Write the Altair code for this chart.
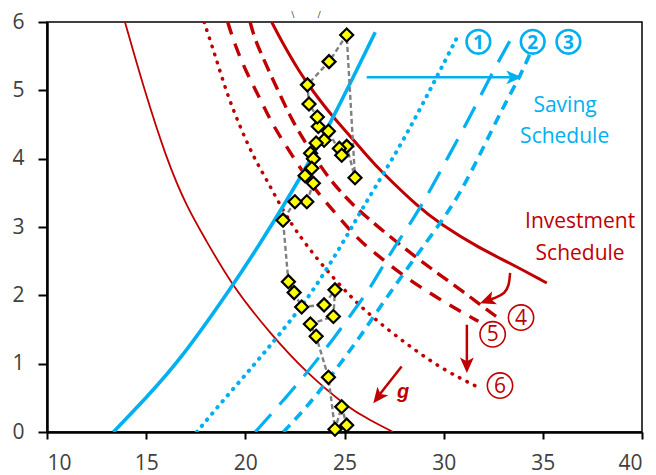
import altair as alt
import pandas as pd

BLUE = "#00B0F0"
RED = "#C00000"
FONT = "Open Sans"

# ---------------- curves ----------------
inv_main_x = [21.33, 21.75, 22.76, 23.43, 24.27, 25.11, 26.2, 26.79, 28.8, 29.82, 31.67, 33.35, 35.2]
inv_main_y = [6.0, 5.76, 5.25, 4.98, 4.66, 4.39, 4.02, 3.83, 3.27, 3.05, 2.71, 2.47, 2.18]

inv_g_x = [13.93, 14.86, 16.04, 17.04, 17.97, 19.31, 21.25, 23.1, 25.11, 26.3, 27.45]
inv_g_y = [6.0, 5.05, 3.98, 3.30, 2.83, 2.15, 1.44, 0.86, 0.37, 0.17, 0.0]

inv_4_x = [20.24, 20.49, 20.83, 21.16, 21.84, 22.34, 23.1, 24.1, 25.0, 25.7, 26.62, 28.14, 29.65, 31.0, 32.0, 32.7]
inv_4_y = [6.0, 5.74, 5.52, 5.3, 4.88, 4.57, 4.2, 3.75, 3.45, 3.25, 3.02, 2.66, 2.33, 2.05, 1.83, 1.68]

inv_5_x = [19.11, 19.48, 20.07, 20.74, 21.33, 22.09, 22.93, 23.68, 24.61, 25.7, 26.62, 27.8, 29.15, 30.16, 31.0, 31.75]
inv_5_y = [6.0, 5.66, 5.25, 4.88, 4.52, 4.17, 3.79, 3.49, 3.18, 2.81, 2.6, 2.32, 2.06, 1.88, 1.74, 1.62]

inv_6_x = [17.92, 18.47, 19.06, 19.73, 20.4, 21.08, 21.75, 22.5, 23.77, 25.45, 26.7, 28.3, 29.98, 31.84]
inv_6_y = [6.0, 5.52, 4.96, 4.47, 4.03, 3.69, 3.32, 2.96, 2.47, 1.93, 1.61, 1.25, 0.91, 0.64]

sav_main_x = [13.35, 15.0, 16.71, 19.34, 20.91, 22.76, 24.27, 26.55]
sav_main_y = [0.0, 0.5, 1.05, 2.13, 2.83, 3.71, 4.5, 5.85]

sav_1_x = [17.55, 18.9, 20.5, 21.75, 23.43, 25.45, 25.95, 27.9, 29.48, 30.74]
sav_1_y = [0.0, 0.47, 1.0, 1.44, 2.05, 3.03, 3.30, 4.22, 5.10, 5.81]

sav_2_x = [20.5, 22.25, 23.77, 25.62, 26.5, 27.3, 28.8, 30.32, 31.33, 32.34, 33.5]
sav_2_y = [0.0, 0.57, 1.1, 1.83, 2.2, 2.62, 3.25, 4.08, 4.61, 5.2, 5.81]

sav_3_x = [21.92, 23.43, 24.78, 25.78, 26.79, 28.47, 29.82, 30.83, 31.9, 33.0, 33.85, 34.45]
sav_3_y = [0.0, 0.47, 1.0, 1.39, 1.83, 2.52, 3.05, 3.49, 4.1, 4.76, 5.2, 5.6]

# ---------------- observed points (path order) ----------------
pts_x = [23.68, 23.63, 23.21, 23.13, 24.22, 25.11, 25.53, 25.11, 24.74, 24.86, 24.19, 23.97,
         23.57, 23.29, 23.43, 23.35, 23.01, 23.43, 23.1, 22.5, 21.9, 22.17, 22.46, 22.84,
         23.97, 24.52, 24.44, 23.28, 23.57, 24.19, 24.52, 24.86, 25.11]
pts_y = [4.47, 4.61, 4.80, 5.08, 5.42, 5.81, 3.72, 4.18, 4.15, 4.05, 4.40, 4.27,
         4.23, 4.08, 4.0, 3.86, 3.75, 3.64, 3.37, 3.37, 3.1, 2.2, 2.04, 1.83,
         1.86, 2.08, 1.69, 1.58, 1.40, 0.80, 0.04, 0.37, 0.10]

# ---------------- annotations ----------------
blue_lab_x = [31.75, 34.49, 36.29]
blue_lab_y = [5.71, 5.71, 5.71]
blue_lab_t = ["1", "2", "3"]

red_lab_x = [33.9, 32.47, 32.84]
red_lab_y = [1.675, 1.43, 0.68]
red_lab_t = ["4", "5", "6"]

sav_text_x = [36.12, 36.1]
sav_text_y = [4.77, 4.32]
sav_text_t = ["Saving", "Schedule"]

inv_text_x = [36.88, 36.88]
inv_text_y = [3.08, 2.6]
inv_text_t = ["Investment", "Schedule"]

mark_x = [22.4, 23.72]
mark_y = [6.1, 6.1]
mark_t = ["\\", "/"]

arrow_blue_x = [26.12, 33.45]
arrow_blue_y = [5.19, 5.19]
arrow_down_x = [31.17, 31.17]
arrow_down_y = [1.57, 1.02]
arrow_g_x = [27.88, 26.75]
arrow_g_y = [0.96, 0.54]
arrow_curve_x = [33.35, 33.30, 33.10, 32.59, 32.24]
arrow_curve_y = [2.33, 2.15, 2.03, 1.96, 1.93]

head_x = [33.51, 31.17, 26.72, 32.24]
head_y = [5.19, 0.99, 0.52, 1.93]
head_a = [90, 180, 217.8, 249.5]
head_c = ["b", "r", "r", "r"]


def df(xs, ys):
    return pd.DataFrame({"x": xs, "y": ys, "o": list(range(len(xs)))})


X = alt.X("x:Q", scale=alt.Scale(domain=[10, 40], nice=False, zero=False),
          axis=alt.Axis(values=[10, 15, 20, 25, 30, 35, 40], tickSize=7, labelPadding=13), title=None)
Y = alt.Y("y:Q", scale=alt.Scale(domain=[0, 6], nice=False),
          axis=alt.Axis(values=[0, 1, 2, 3, 4, 5, 6], tickSize=9, labelPadding=14), title=None)
O = alt.Order("o:Q")


def curve(xs, ys, color, width, dash=None, cap="butt"):
    kw = dict(color=color, strokeWidth=width, interpolate="basis", clip=True, strokeCap=cap)
    if dash is not None:
        kw["strokeDash"] = dash
    return alt.Chart(df(xs, ys)).mark_line(**kw).encode(x=X, y=Y, order=O)


layers = [
    curve(inv_g_x, inv_g_y, RED, 1.8),
    curve(inv_6_x, inv_6_y, RED, 3.5, [0.5, 8], "round"),
    curve(inv_5_x, inv_5_y, RED, 3.4, [13, 10]),
    curve(inv_4_x, inv_4_y, RED, 3.4, [13, 7]),
    curve(inv_main_x, inv_main_y, RED, 3),
    curve(sav_1_x, sav_1_y, BLUE, 4, [0.5, 7.5], "round"),
    curve(sav_2_x, sav_2_y, BLUE, 3.2, [24, 13]),
    curve(sav_3_x, sav_3_y, BLUE, 3.6, [10, 7]),
    curve(sav_main_x, sav_main_y, BLUE, 3.6),
]

# observed path
layers.append(
    alt.Chart(df(pts_x, pts_y)).mark_line(color="#808080", strokeWidth=2.4, strokeDash=[5, 3])
    .encode(x=X, y=Y, order=O)
)
layers.append(
    alt.Chart(df(pts_x, pts_y)).mark_point(shape="diamond", filled=True, fill="#FFFF00",
                                           stroke="black", strokeWidth=2.2, size=170, opacity=1)
    .encode(x=X, y=Y)
)

# arrows
layers.append(alt.Chart(df(arrow_blue_x, arrow_blue_y)).mark_line(color=BLUE, strokeWidth=2.5)
              .encode(x=X, y=Y, order=O))
layers.append(alt.Chart(df(arrow_down_x, arrow_down_y)).mark_line(color=RED, strokeWidth=2.5)
              .encode(x=X, y=Y, order=O))
layers.append(alt.Chart(df(arrow_g_x, arrow_g_y)).mark_line(color=RED, strokeWidth=2.5)
              .encode(x=X, y=Y, order=O))
layers.append(alt.Chart(df(arrow_curve_x, arrow_curve_y)).mark_line(color=RED, strokeWidth=2.5,
                                                                    interpolate="basis")
              .encode(x=X, y=Y, order=O))
heads = pd.DataFrame({"x": head_x, "y": head_y, "a": head_a, "c": head_c})
layers.append(
    alt.Chart(heads).mark_point(shape="M0,-1L0.8,0.8L0,0.35L-0.8,0.8Z", filled=True, size=300, opacity=1)
    .encode(x=X, y=Y, angle=alt.Angle("a:Q", scale=None),
            color=alt.Color("c:N", scale=alt.Scale(domain=["b", "r"], range=[BLUE, RED]), legend=None))
)

# circled labels
bl = pd.DataFrame({"x": blue_lab_x, "y": blue_lab_y, "t": blue_lab_t})
rl = pd.DataFrame({"x": red_lab_x, "y": red_lab_y, "t": red_lab_t})
layers.append(alt.Chart(bl).mark_point(shape="circle", size=560, filled=False, color=BLUE,
                                       strokeWidth=2.6, opacity=1).encode(x=X, y=Y))
layers.append(alt.Chart(bl).mark_text(font=FONT, fontSize=19, fontWeight="bold", color=BLUE,
                                      baseline="middle", align="center", dy=1).encode(x=X, y=Y, text="t:N"))
layers.append(alt.Chart(rl).mark_point(shape="circle", size=640, filled=False, color=RED,
                                       strokeWidth=1.6, opacity=1).encode(x=X, y=Y))
layers.append(alt.Chart(rl).mark_text(font=FONT, fontSize=21, color=RED,
                                      baseline="middle", align="center", dy=1).encode(x=X, y=Y, text="t:N"))

# schedule labels
st = pd.DataFrame({"x": sav_text_x, "y": sav_text_y, "t": sav_text_t})
it = pd.DataFrame({"x": inv_text_x, "y": inv_text_y, "t": inv_text_t})
layers.append(alt.Chart(st).mark_text(font=FONT, fontSize=21, color=BLUE, baseline="middle",
                                      align="center").encode(x=X, y=Y, text="t:N"))
layers.append(alt.Chart(it).mark_text(font=FONT, fontSize=21, color=RED, baseline="middle",
                                      align="center").encode(x=X, y=Y, text="t:N"))
gt = pd.DataFrame({"x": [27.95], "y": [0.585], "t": ["g"]})
layers.append(alt.Chart(gt).mark_text(font="Liberation Sans", fontSize=20, fontWeight="bold", fontStyle="italic",
                                      color=RED, baseline="middle", align="center").encode(x=X, y=Y, text="t:N"))
mk = pd.DataFrame({"x": mark_x, "y": mark_y, "t": mark_t})
layers.append(alt.Chart(mk).mark_text(font=FONT, fontSize=9, color="#404040", baseline="middle",
                                      align="center").encode(x=X, y=Y, text="t:N"))

chart = alt.layer(*layers).properties(
    width=595, height=410,
    padding={"left": 39, "top": 14, "right": 6, "bottom": 42},
    autosize=alt.AutoSizeParams(type="none"),
).configure_view(stroke="black", strokeWidth=1.5).configure_axis(
    grid=False, domainColor="black", domainWidth=2.5, tickColor="black", tickWidth=2,
    labelFont=FONT, labelFontSize=21, labelColor="#404040",
)

chart.save("out.html", embed_options={"renderer": "svg", "actions": False})
